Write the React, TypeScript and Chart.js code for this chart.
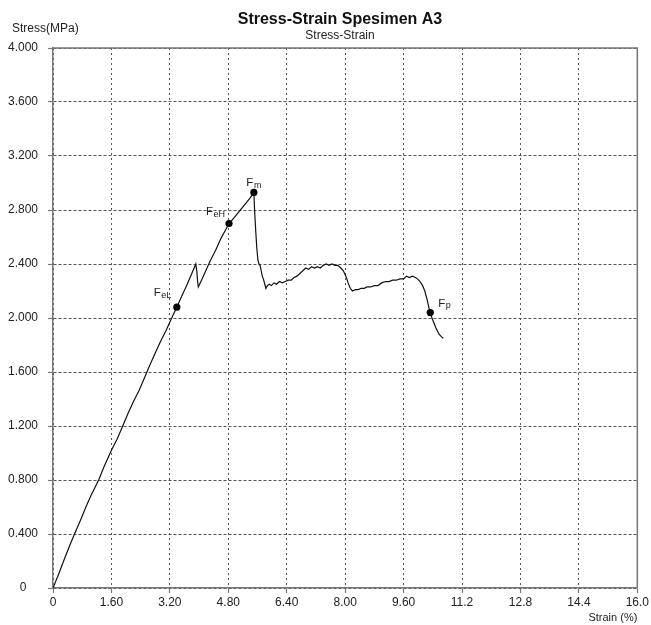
import React, { useEffect, useRef } from 'react';
import { Chart, registerables } from 'chart.js';

Chart.register(...registerables);

// ---- data ----
const strainValues = [
  0, 0.15, 0.32, 0.48, 0.59, 0.75, 0.9, 1.05, 1.25, 1.4, 1.6, 1.75, 1.91, 2.05, 2.2, 2.35, 2.48, 2.65, 2.8, 2.95,
  3.1, 3.25, 3.39, 3.52, 3.66, 3.8, 3.91, 3.94, 3.96, 3.98, 4.05, 4.15, 4.3, 4.45, 4.6, 4.72, 4.82, 4.95, 5.1, 5.25,
  5.4, 5.5, 5.52, 5.55, 5.58, 5.61, 5.64, 5.67, 5.7, 5.73, 5.76, 5.8, 5.83, 5.87, 5.92, 5.98, 6.05, 6.12, 6.2, 6.28,
  6.36, 6.44, 6.52, 6.6, 6.68, 6.76, 6.84, 6.92, 7.0, 7.08, 7.16, 7.24, 7.32, 7.4, 7.48, 7.56, 7.64, 7.72, 7.8, 7.88,
  7.95, 8.02, 8.08, 8.14, 8.2, 8.28, 8.36, 8.44, 8.52, 8.6, 8.7, 8.8, 8.9, 9.0, 9.1, 9.2, 9.3, 9.4, 9.5, 9.6,
  9.68, 9.76, 9.84, 9.92, 9.98, 10.05, 10.12, 10.18, 10.24, 10.29, 10.33, 10.39, 10.48, 10.57, 10.64, 10.69,
];
const stressValues = [
  0, 0.1, 0.22, 0.33, 0.4, 0.5, 0.6, 0.69, 0.8, 0.9, 1.02, 1.1, 1.2, 1.29, 1.38, 1.46, 1.54, 1.65, 1.74, 1.83,
  1.91, 2.0, 2.08, 2.16, 2.24, 2.33, 2.4, 2.34, 2.27, 2.23, 2.27, 2.33, 2.42, 2.5, 2.59, 2.65, 2.7, 2.74, 2.79, 2.84,
  2.89, 2.93, 2.8, 2.65, 2.52, 2.43, 2.4, 2.39, 2.35, 2.31, 2.29, 2.25, 2.22, 2.24, 2.25, 2.24, 2.26, 2.25, 2.27, 2.26,
  2.27, 2.28, 2.28, 2.3, 2.31, 2.33, 2.35, 2.37, 2.36, 2.38, 2.37, 2.38, 2.37, 2.39, 2.4, 2.39, 2.4, 2.39, 2.39, 2.37,
  2.35, 2.31, 2.26, 2.22, 2.2, 2.21, 2.21, 2.22, 2.22, 2.23, 2.23, 2.24, 2.24, 2.26, 2.27, 2.27, 2.28, 2.28, 2.29, 2.29,
  2.31, 2.3, 2.31, 2.3, 2.29, 2.27, 2.24, 2.2, 2.14, 2.08, 2.04, 1.99, 1.93, 1.88, 1.86, 1.85,
];

const markerStrain = [3.39, 4.82, 5.5, 10.33];
const markerStress = [2.08, 2.7, 2.93, 2.04];
const markerSubscripts = ['eL', 'eH', 'm', 'p'];

const xTickValues = [0, 1.6, 3.2, 4.8, 6.4, 8.0, 9.6, 11.2, 12.8, 14.4, 16.0];
const xTickLabels = ['0', '1.60', '3.20', '4.80', '6.40', '8.00', '9.60', '11.2', '12.8', '14.4', '16.0'];
const yTickValues = [0, 0.4, 0.8, 1.2, 1.6, 2.0, 2.4, 2.8, 3.2, 3.6, 4.0];
const yTickLabels = ['0', '0.400', '0.800', '1.200', '1.600', '2.000', '2.400', '2.800', '3.200', '3.600', '4.000'];

const titleText = 'Stress-Strain Spesimen A3';
const subtitleText = 'Stress-Strain';
const yAxisTitle = 'Stress(MPa)';
const xAxisTitle = 'Strain (%)';

// label placement (style): offsets of the "F" glyph from the marker, in px
const labelOffsets = [
  [-23, -11],
  [-23, -8.5],
  [-7.5, -6],
  [8, -6],
];

const FONT = "'Liberation Sans', Arial, Helvetica, sans-serif";

const decorPlugin = {
  id: 'decor',
  afterDraw(chart: any) {
    const { ctx, chartArea, scales } = chart;
    ctx.save();
    // frame (top + right)
    ctx.strokeStyle = '#777';
    ctx.lineWidth = 1.5;
    ctx.setLineDash([]);
    ctx.beginPath();
    ctx.moveTo(chartArea.left, chartArea.top);
    ctx.lineTo(chartArea.right, chartArea.top);
    ctx.lineTo(chartArea.right, chartArea.bottom);
    ctx.stroke();

    // title + subtitle
    ctx.fillStyle = '#111';
    ctx.textAlign = 'center';
    ctx.textBaseline = 'middle';
    ctx.font = `bold 16px ${FONT}`;
    ctx.fillText(titleText, 340, 20);
    ctx.fillStyle = '#222';
    ctx.font = `12px ${FONT}`;
    ctx.fillText(subtitleText, 340, 36);

    // y axis title
    ctx.textAlign = 'left';
    ctx.fillText(yAxisTitle, 12, 29);

    // point labels
    ctx.textBaseline = 'alphabetic';
    for (let i = 0; i < markerStrain.length; i++) {
      const px = scales.x.getPixelForValue(markerStrain[i]);
      const py = scales.y.getPixelForValue(markerStress[i]);
      const [dx, dy] = labelOffsets[i];
      ctx.font = `11.5px ${FONT}`;
      ctx.fillStyle = '#222';
      ctx.textAlign = 'left';
      ctx.fillText('F', px + dx, py + dy);
      const fw = ctx.measureText('F').width;
      ctx.font = `9px ${FONT}`;
      ctx.fillText(markerSubscripts[i], px + dx + fw + 0.5, py + dy + 1.5);
    }
    ctx.restore();
  },
};

export default function App() {
  const canvasRef = useRef<HTMLCanvasElement | null>(null);

  useEffect(() => {
    document.body.style.margin = '0';
    const canvas = canvasRef.current;
    if (!canvas) return;

    const curve = strainValues.map((x, i) => ({ x, y: stressValues[i] }));
    const markers = markerStrain.map((x, i) => ({ x, y: markerStress[i] }));

    const chart = new Chart(canvas, {
      type: 'line',
      data: {
        datasets: [
          {
            data: curve,
            borderColor: '#111',
            borderWidth: 1.2,
            pointRadius: 0,
            tension: 0,
            fill: false,
          },
          {
            data: markers,
            showLine: false,
            pointRadius: 3.6,
            pointBackgroundColor: '#000',
            pointBorderColor: '#000',
            pointBorderWidth: 0,
          },
        ],
      },
      options: {
        animation: false,
        responsive: false,
        devicePixelRatio: 1,
        layout: { padding: { top: 48, right: 11, left: 0, bottom: 0 } },
        plugins: {
          legend: { display: false },
          tooltip: { enabled: false },
          title: { display: false },
        },
        scales: {
          x: {
            type: 'linear',
            min: 0,
            max: 16,
            afterBuildTicks: (scale: any) => {
              scale.ticks = xTickValues.map((v) => ({ value: v }));
            },
            afterFit: (scale: any) => {
              scale.height = 37;
            },
            ticks: {
              autoSkip: false,
              maxRotation: 0,
              padding: 2,
              color: '#222',
              font: { family: FONT, size: 12 },
              callback: (_v: any, index: number) => xTickLabels[index],
            },
            grid: {
              color: '#555',
              lineWidth: 1,
              drawTicks: true,
              tickLength: 5,
              tickColor: '#777',
              tickBorderDash: [],
              tickWidth: 1.2,
            },
            border: { display: true, color: '#777', width: 1.5, dash: [2, 3] },
            title: {
              display: true,
              text: xAxisTitle,
              align: 'end',
              color: '#222',
              font: { family: FONT, size: 11 },
              padding: { top: 0, bottom: 0 },
            },
          },
          y: {
            type: 'linear',
            min: 0,
            max: 4,
            afterBuildTicks: (scale: any) => {
              scale.ticks = yTickValues.map((v) => ({ value: v }));
            },
            afterFit: (scale: any) => {
              scale.width = 53;
            },
            ticks: {
              crossAlign: 'center',
              padding: 10,
              color: '#222',
              font: { family: FONT, size: 12 },
              callback: (_v: any, index: number) => yTickLabels[index],
            },
            grid: {
              color: '#555',
              lineWidth: 1,
              drawTicks: true,
              tickLength: 5,
              tickColor: '#777',
              tickBorderDash: [],
              tickWidth: 1.2,
            },
            border: { display: true, color: '#777', width: 1.5, dash: [3, 2] },
          },
        },
      },
      plugins: [decorPlugin],
    } as any);

    return () => chart.destroy();
  }, []);

  return (
    <div style={{ width: 651, height: 625 }}>
      <canvas ref={canvasRef} width={651} height={625} style={{ display: 'block' }} />
    </div>
  );
}
